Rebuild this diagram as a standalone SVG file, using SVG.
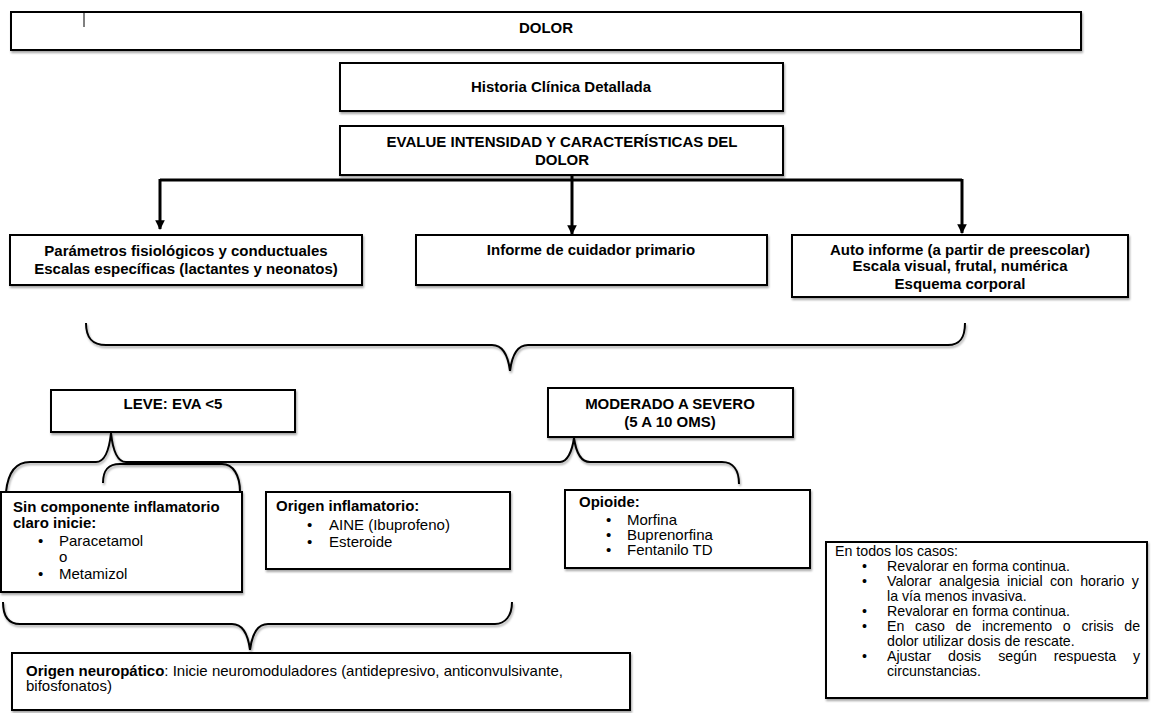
<svg xmlns="http://www.w3.org/2000/svg" width="1151" height="713" viewBox="0 0 1151 713">
<defs>
<style>
text{font-family:"Liberation Sans",Arial,sans-serif;fill:#000}
.b{font-size:15px;font-weight:bold}
.bc{font-size:15px;font-weight:bold;text-anchor:middle}
.r{font-size:15px}
.s{font-size:14.2px}
.box{fill:#fff;stroke:#000;stroke-width:2;filter:url(#sh)}
.brace{fill:none;stroke:#000;stroke-width:2;filter:url(#sh)}
.con{fill:none;stroke:#000;stroke-width:3}
</style>
<filter id="sh" x="-5%" y="-5%" width="110%" height="120%">
<feDropShadow dx="1" dy="2" stdDeviation="1" flood-color="#000" flood-opacity="0.35"/>
</filter>
<marker id="ah" viewBox="0 0 10 10" refX="9" refY="5" markerWidth="3.2" markerHeight="3.2" orient="auto">
<path d="M0,0 L10,5 L0,10 Z" fill="#000"/>
</marker>
</defs>
<rect width="1151" height="713" fill="#fff"/>

<g id="connectors">
<path class="con" d="M160,180 H962"/>
<path class="con" d="M160,179 V229" marker-end="url(#ah)"/>
<path class="con" d="M572,175 V234" marker-end="url(#ah)"/>
<path class="con" d="M962,179 V233" marker-end="url(#ah)"/>
<path class="brace" d="M86,323 C86,338 92,345 106,345 H492 C502,345 508,355 510,371 C512,355 518,345 528,345 H948 C960,345 965,338 965,323"/>
<path class="brace" d="M6,492 C8,472 16,462 30,462 H96 C104,462 109,452 111,433 C113,452 118,462 126,462 H560 C567,462 572,452 574,438 C576,452 581,462 590,462 H722 C733,462 739,470 739,484"/>
<path class="brace" d="M103,483 C103,470 108,464 120,464 H222 C233,464 240,475 240,492"/>
<path class="brace" d="M3,602 C3,616 8,624 20,624 H232 C242,624 248,634 250,650 C252,634 258,624 268,624 H495 C505,624 512,616 512,602"/>
</g>

<g id="dolor">
<rect class="box" x="11" y="12" width="1070" height="38"/>
<line x1="84" y1="13" x2="84" y2="27" stroke="#000" stroke-width="1"/>
<text class="bc" x="546" y="33">DOLOR</text>
</g>

<g id="historia">
<rect class="box" x="340" y="63" width="443" height="48"/>
<text class="bc" x="561" y="92">Historia Clínica Detallada</text>
</g>

<g id="evalue">
<rect class="box" x="340" y="126" width="443" height="49"/>
<text class="bc" x="562" y="147">EVALUE INTENSIDAD Y CARACTERÍSTICAS DEL</text>
<text class="bc" x="562" y="165">DOLOR</text>
</g>

<g id="parametros">
<rect class="box" x="10" y="235" width="352" height="50"/>
<text class="bc" x="186" y="256">Parámetros fisiológicos y conductuales</text>
<text class="bc" x="186" y="274">Escalas específicas (lactantes y neonatos)</text>
</g>

<g id="informe">
<rect class="box" x="416" y="235" width="351" height="50"/>
<text class="bc" x="591" y="255">Informe de cuidador primario</text>
</g>

<g id="auto">
<rect class="box" x="792" y="235" width="336" height="62"/>
<text class="bc" x="960" y="255">Auto informe (a partir de preescolar)</text>
<text class="bc" x="960" y="271">Escala visual, frutal, numérica</text>
<text class="bc" x="960" y="289">Esquema corporal</text>
</g>

<g id="leve">
<rect class="box" x="51" y="390" width="244" height="42"/>
<text class="bc" x="173" y="409">LEVE: EVA &lt;5</text>
</g>

<g id="moderado">
<rect class="box" x="548" y="388" width="245" height="49"/>
<text class="bc" x="670" y="409">MODERADO A SEVERO</text>
<text class="bc" x="670" y="427">(5 A 10 OMS)</text>
</g>

<g id="sin">
<rect class="box" x="1" y="492" width="241" height="100"/>
<text class="b" x="13" y="512">Sin componente inflamatorio</text>
<text class="b" x="13" y="528">claro inicie:</text>
<text class="r" x="38" y="546">•</text>
<text class="r" x="59" y="546">Paracetamol</text>
<text class="r" x="59" y="562">o</text>
<text class="r" x="38" y="579">•</text>
<text class="r" x="59" y="579">Metamizol</text>
</g>

<g id="inflamatorio">
<rect class="box" x="266" y="492" width="244" height="77"/>
<text class="b" x="276" y="511">Origen inflamatorio:</text>
<text class="r" x="307" y="530">•</text>
<text class="r" x="329" y="530">AINE (Ibuprofeno)</text>
<text class="r" x="307" y="547">•</text>
<text class="r" x="329" y="547">Esteroide</text>
</g>

<g id="opioide">
<rect class="box" x="565" y="490" width="245" height="78"/>
<text class="b" x="579" y="507">Opioide:</text>
<text class="r" x="606" y="525">•</text>
<text class="r" x="627" y="525">Morfina</text>
<text class="r" x="606" y="540">•</text>
<text class="r" x="627" y="540">Buprenorfina</text>
<text class="r" x="606" y="555">•</text>
<text class="r" x="627" y="555">Fentanilo TD</text>
</g>

<g id="todos">
<rect class="box" x="826" y="542" width="321" height="156"/>
<text class="s" x="835" y="556">En todos los casos:</text>
<text class="s" x="862" y="571">•</text>
<text class="s" x="887" y="571">Revalorar en forma continua.</text>
<text class="s" x="862" y="586">•</text>
<text class="s" x="887" y="586" style="word-spacing:3.4px">Valorar analgesia inicial con horario y</text>
<text class="s" x="887" y="601">la vía menos invasiva.</text>
<text class="s" x="862" y="616">•</text>
<text class="s" x="887" y="616">Revalorar en forma continua.</text>
<text class="s" x="862" y="631">•</text>
<text class="s" x="887" y="631" style="word-spacing:6.7px">En caso de incremento o crisis de</text>
<text class="s" x="887" y="646">dolor utilizar dosis de rescate.</text>
<text class="s" x="862" y="661">•</text>
<text class="s" x="887" y="661" style="word-spacing:13px">Ajustar dosis según respuesta y</text>
<text class="s" x="887" y="676">circunstancias.</text>
</g>

<g id="neuropatico">
<rect class="box" x="12" y="653" width="618" height="57"/>
<text class="r" x="26" y="676"><tspan font-weight="bold">Origen neuropático</tspan>: Inicie neuromoduladores (antidepresivo, anticonvulsivante,</text>
<text class="r" x="26" y="691">bifosfonatos)</text>
</g>
</svg>
